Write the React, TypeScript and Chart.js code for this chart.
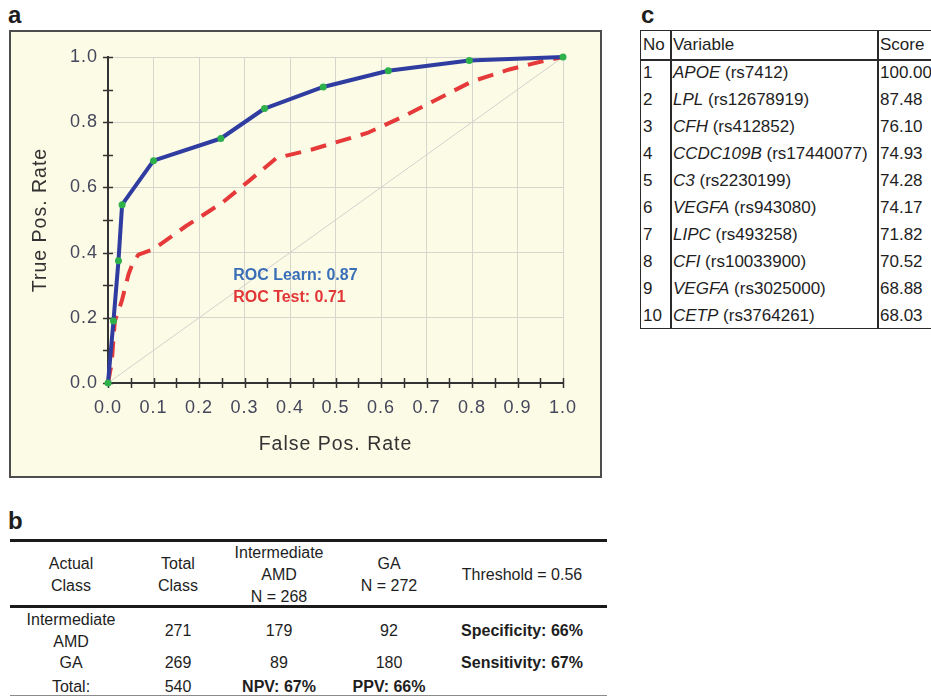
import React, { useEffect, useRef } from 'react';
import { Chart, registerables } from 'chart.js';

Chart.register(...registerables);

const FONT = "'Liberation Sans', Arial, Helvetica, sans-serif";

// ---- Panel a: ROC curves ----
const learnFPR = [0, 0.012, 0.023, 0.031, 0.1, 0.248, 0.344, 0.473, 0.616, 0.794, 1.0];
const learnTPR = [0, 0.19, 0.375, 0.547, 0.682, 0.75, 0.842, 0.908, 0.958, 0.989, 1.0];

const testFPR = [0, 0.008, 0.015, 0.03, 0.045, 0.055, 0.067, 0.1, 0.17, 0.25, 0.31, 0.37, 0.45, 0.57, 0.65, 0.7, 0.8, 0.88, 0.96, 1.0];
const testTPR = [0, 0.06, 0.19, 0.25, 0.333, 0.37, 0.394, 0.41, 0.48, 0.552, 0.62, 0.69, 0.717, 0.767, 0.818, 0.854, 0.925, 0.961, 0.989, 1.0];

const chanceFPR = [0, 1];
const chanceTPR = [0, 1];

const aucLabels = ['ROC Learn: 0.87', 'ROC Test: 0.71'];
const aucColors = ['#3a6fb8', '#e23636'];
const aucLabelX = 0.275;
const aucLabelY = [0.33, 0.263];

// ---- Panel b: confusion table ----
const bHeaders = [['Actual', 'Class'], ['Total', 'Class'], ['Intermediate', 'AMD', 'N = 268'], ['GA', 'N = 272'], ['Threshold = 0.56']];
const bRowLabels = [['Intermediate', 'AMD'], ['GA'], ['Total:']];
const bTotals = ['271', '269', '540'];
const bPredAMD = ['179', '89', 'NPV: 67%'];
const bPredGA = ['92', '180', 'PPV: 66%'];
const bMetrics = ['Specificity: 66%', 'Sensitivity: 67%', ''];

// ---- Panel c: variable importance ----
const cNo = ['1', '2', '3', '4', '5', '6', '7', '8', '9', '10'];
const cGene = ['APOE', 'LPL', 'CFH', 'CCDC109B', 'C3', 'VEGFA', 'LIPC', 'CFI', 'VEGFA', 'CETP'];
const cSnp = ['rs7412', 'rs12678919', 'rs412852', 'rs17440077', 'rs2230199', 'rs943080', 'rs493258', 'rs10033900', 'rs3025000', 'rs3764261'];
const cScore = ['100.00', '87.48', '76.10', '74.93', '74.28', '74.17', '71.82', '70.52', '68.88', '68.03'];

const pts = (xs: number[], ys: number[]) => xs.map((x, i) => ({ x, y: ys[i] }));

const spacingPlugin = {
  id: 'spacing',
  beforeDraw(chart: any) {
    (chart.ctx as any).letterSpacing = '1px';
  },
};

const tickMarksPlugin = {
  id: 'tickMarks',
  beforeDatasetsDraw(chart: any) {
    const { ctx, chartArea, scales } = chart;
    const x = scales.x;
    const y = scales.y;
    ctx.save();
    ctx.strokeStyle = '#333';
    ctx.lineWidth = 1.5;
    ctx.beginPath();
    for (let i = 0; i <= 20; i++) {
      const px = Math.round(x.getPixelForValue(i / 20)) + 0.5;
      ctx.moveTo(px, chartArea.bottom - 5);
      ctx.lineTo(px, chartArea.bottom + 5);
    }
    for (let i = 0; i <= 10; i++) {
      const py = Math.round(y.getPixelForValue(i / 10)) + 0.5;
      ctx.moveTo(chartArea.left - 5, py);
      ctx.lineTo(chartArea.left + 5, py);
    }
    ctx.stroke();
    ctx.restore();
  },
};

const aucTextPlugin = {
  id: 'aucText',
  afterDatasetsDraw(chart: any) {
    const { ctx, scales } = chart;
    ctx.save();
    (ctx as any).letterSpacing = '0px';
    ctx.font = `bold 16px ${FONT}`;
    ctx.textAlign = 'left';
    ctx.textBaseline = 'middle';
    aucLabels.forEach((t, i) => {
      ctx.fillStyle = aucColors[i];
      ctx.fillText(t, scales.x.getPixelForValue(aucLabelX), scales.y.getPixelForValue(aucLabelY[i]));
    });
    ctx.restore();
  },
};

function RocChart() {
  const ref = useRef<HTMLCanvasElement>(null);
  useEffect(() => {
    if (!ref.current) return;
    const chart = new Chart(ref.current, {
      type: 'line',
      data: {
        datasets: [
          {
            label: 'Learn',
            data: pts(learnFPR, learnTPR),
            borderColor: '#2f3ca0',
            borderWidth: 4,
            pointRadius: 3.5,
            pointBackgroundColor: '#2eb04a',
            pointBorderWidth: 0,
            tension: 0,
            borderJoinStyle: 'round',
            clip: false,
            order: 0,
          } as any,
          {
            label: 'Test',
            data: pts(testFPR, testTPR),
            borderColor: '#e63a3a',
            borderWidth: 4,
            borderDash: [16, 10],
            pointRadius: 0,
            tension: 0,
            clip: false,
            order: 1,
          } as any,
          {
            label: 'Chance',
            data: pts(chanceFPR, chanceTPR),
            borderColor: '#d2d2cc',
            borderWidth: 1,
            pointRadius: 0,
            order: 2,
          } as any,
        ],
      },
      options: {
        animation: false,
        responsive: false,
        devicePixelRatio: 1,
        events: [],
        layout: { padding: { left: 0, top: 25, right: 37, bottom: 0 } },
        plugins: { legend: { display: false }, tooltip: { enabled: false } },
        scales: {
          x: {
            type: 'linear',
            min: 0,
            max: 1,
            ticks: {
              stepSize: 0.1,
              callback: (v: any) => Number(v).toFixed(1),
              font: { family: FONT, size: 18 },
              color: '#45475c',
              padding: 14,
              maxRotation: 0,
              autoSkip: false,
            },
            grid: { color: '#d6d6cf', lineWidth: 1, drawTicks: false },
            border: { display: true, color: '#333', width: 2 },
            title: {
              display: true,
              text: 'False Pos. Rate',
              font: { family: FONT, size: 19.5 },
              color: '#333',
              padding: { top: 0, bottom: 20 },
            },
            afterFit: (s: any) => {
              s.height = 93;
            },
          },
          y: {
            type: 'linear',
            min: 0,
            max: 1,
            ticks: {
              stepSize: 0.2,
              callback: (v: any) => Number(v).toFixed(1),
              font: { family: FONT, size: 18 },
              color: '#45475c',
              padding: 10,
            },
            grid: { color: '#d6d6cf', lineWidth: 1, drawTicks: false },
            border: { display: true, color: '#333', width: 2 },
            title: {
              display: true,
              text: 'True Pos. Rate',
              font: { family: FONT, size: 19.5 },
              color: '#333',
              padding: { top: 18, bottom: 0 },
            },
            afterFit: (s: any) => {
              s.width = 97;
            },
          },
        },
      } as any,
      plugins: [spacingPlugin, tickMarksPlugin, aucTextPlugin],
    });
    return () => chart.destroy();
  }, []);
  return <canvas ref={ref} width={589} height={444} style={{ display: 'block' }} />;
}

function Cell({ cx, cy, lines, bold }: { cx: number; cy: number; lines: string[]; bold?: boolean }) {
  const lh = 22;
  return (
    <div
      style={{
        position: 'absolute',
        left: cx - 90,
        width: 180,
        top: cy - (lines.length * lh) / 2,
        lineHeight: `${lh}px`,
        textAlign: 'center',
        fontSize: 16,
        fontWeight: bold ? 'bold' : 'normal',
        whiteSpace: 'nowrap',
      }}
    >
      {lines.map((l, i) => (
        <div key={i}>{l}</div>
      ))}
    </div>
  );
}

const bColX = [71, 178, 279, 389, 522];
const bHeaderY = 574.5;
const bRowY = [631, 663, 687];

function TableB() {
  return (
    <>
      <div style={{ position: 'absolute', left: 8, top: 509, fontSize: 24, lineHeight: '24px', fontWeight: 'bold' }}>b</div>
      <div style={{ position: 'absolute', left: 10, top: 539, width: 597, height: 2.5, background: '#1a1a1a' }} />
      <div style={{ position: 'absolute', left: 10, top: 605, width: 597, height: 2.5, background: '#1a1a1a' }} />
      <div style={{ position: 'absolute', left: 10, top: 695, width: 597, height: 1, background: '#8a8a8a' }} />
      {bHeaders.map((h, i) => (
        <Cell key={'h' + i} cx={bColX[i]} cy={bHeaderY} lines={h} />
      ))}
      {bRowLabels.map((r, i) => (
        <React.Fragment key={'r' + i}>
          <Cell cx={bColX[0]} cy={bRowY[i]} lines={r} />
          <Cell cx={bColX[1]} cy={bRowY[i]} lines={[bTotals[i]]} />
          <Cell cx={bColX[2]} cy={bRowY[i]} lines={[bPredAMD[i]]} bold={i === 2} />
          <Cell cx={bColX[3]} cy={bRowY[i]} lines={[bPredGA[i]]} bold={i === 2} />
          {bMetrics[i] ? <Cell cx={bColX[4]} cy={bRowY[i]} lines={[bMetrics[i]]} bold /> : null}
        </React.Fragment>
      ))}
    </>
  );
}

function TableC() {
  const top = 30;
  const headH = 29;
  const rowH = 27;
  const bottom = top + headH + rowH * cNo.length;
  const line = '#2a2a2a';
  const txt = (left: number, y: number, content: React.ReactNode, key: string) => (
    <div key={key} style={{ position: 'absolute', left, top: y, lineHeight: `${rowH}px`, fontSize: 17, whiteSpace: 'nowrap' }}>
      {content}
    </div>
  );
  return (
    <>
      <div style={{ position: 'absolute', left: 641, top: 3, fontSize: 24, lineHeight: '24px', fontWeight: 'bold' }}>c</div>
      <div style={{ position: 'absolute', left: 640, top, width: 340, height: bottom - top, boxSizing: 'border-box', border: `1.5px solid ${line}` }} />
      <div style={{ position: 'absolute', left: 670, top, width: 1.5, height: bottom - top, background: line }} />
      <div style={{ position: 'absolute', left: 877, top, width: 1.5, height: bottom - top, background: line }} />
      <div style={{ position: 'absolute', left: 640, top: top + headH, width: 340, height: 1.5, background: line }} />
      {txt(643, top + 1, 'No', 'hn')}
      {txt(673, top + 1, 'Variable', 'hv')}
      {txt(880, top + 1, 'Score', 'hs')}
      {cNo.map((n, i) => {
        const y = top + headH + rowH * i;
        return (
          <React.Fragment key={'c' + i}>
            {txt(643, y, n, 'n' + i)}
            {txt(
              673,
              y,
              <>
                <i>{cGene[i]}</i> ({cSnp[i]})
              </>,
              'v' + i
            )}
            {txt(880, y, cScore[i], 's' + i)}
          </React.Fragment>
        );
      })}
    </>
  );
}

export default function App() {
  return (
    <div
      style={{
        position: 'absolute',
        left: 0,
        top: 0,
        width: 931,
        height: 697,
        overflow: 'hidden',
        background: '#ffffff',
        fontFamily: FONT,
        color: '#1e1e1e',
      }}
    >
      <div style={{ position: 'absolute', left: 8, top: 3, fontSize: 24, lineHeight: '24px', fontWeight: 'bold' }}>a</div>
      <div
        style={{
          position: 'absolute',
          left: 9,
          top: 30,
          width: 593,
          height: 448,
          boxSizing: 'border-box',
          border: '2px solid #4d4d4d',
          background: '#fcfbe6',
        }}
      >
        <RocChart />
      </div>
      <TableB />
      <TableC />
    </div>
  );
}
